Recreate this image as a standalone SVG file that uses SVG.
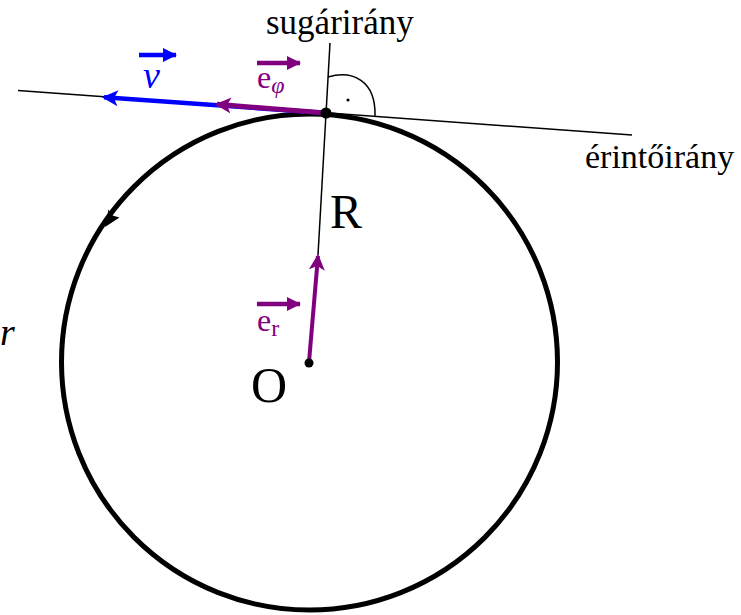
<svg xmlns="http://www.w3.org/2000/svg" width="741" height="615" viewBox="0 0 741 615">
<style>
  .lbl{font-family:"Liberation Serif","Times New Roman",serif;fill:#000}
  .thin{stroke:#000;stroke-width:1.5;fill:none}
</style>
<defs>
  <marker id="hb" markerUnits="userSpaceOnUse" viewBox="0 0 16 16" refX="14" refY="8" markerWidth="16" markerHeight="16" orient="auto">
    <path d="M0,0 L16,8 L0,16 L4,8 Z" fill="#0000ff"/>
  </marker>
  <marker id="hp" markerUnits="userSpaceOnUse" viewBox="0 0 16 16" refX="14" refY="8" markerWidth="16" markerHeight="16" orient="auto">
    <path d="M0,0 L16,8 L0,16 L4,8 Z" fill="#800080"/>
  </marker>
  <marker id="hps" markerUnits="userSpaceOnUse" viewBox="0 0 14 14" refX="13" refY="7" markerWidth="14" markerHeight="14" orient="auto">
    <path d="M0,0 L14,7 L0,14 Z" fill="#800080"/>
  </marker>
  <marker id="hbs" markerUnits="userSpaceOnUse" viewBox="0 0 14 14" refX="13" refY="7" markerWidth="14" markerHeight="14" orient="auto">
    <path d="M0,0 L14,7 L0,14 Z" fill="#0000ff"/>
  </marker>
</defs>
<rect width="741" height="615" fill="#fff"/>

<g id="circle">
  <circle cx="309.5" cy="362" r="248" fill="none" stroke="#000" stroke-width="5"/>
  <path d="M105,227 L108.5,209.5 L112.5,215.5 L119.5,217.5 Z" fill="#000"/>
</g>

<g id="connectors">
  <line class="thin" x1="18" y1="90.5" x2="632" y2="135"/>
  <line class="thin" x1="330" y1="43" x2="318" y2="255"/>
  <path class="thin" d="M328,77 C352,70 376,80 375,116"/>
  <circle cx="348" cy="100" r="1.6" fill="#000"/>
  <line x1="326" y1="113" x2="104" y2="97.3" stroke="#0000ff" stroke-width="4.5" marker-end="url(#hb)"/>
  <line x1="326" y1="113" x2="217" y2="104.3" stroke="#800080" stroke-width="5" marker-end="url(#hp)"/>
  <line x1="309" y1="362" x2="318" y2="256" stroke="#800080" stroke-width="4" marker-end="url(#hp)"/>
  <circle cx="326" cy="113" r="5.5" fill="#000"/>
  <circle cx="309" cy="363" r="4.5" fill="#000"/>
</g>

<g id="labels">
  <text class="lbl" x="266" y="34" font-size="35">sugárirány</text>
  <text class="lbl" x="585" y="168" font-size="34">érintőirány</text>
  <text class="lbl" x="330" y="228" font-size="48">R</text>
  <text class="lbl" x="251" y="402" font-size="50">O</text>
  <text class="lbl" x="0" y="345" font-size="38" font-style="italic">r</text>
</g>

<g id="label-v">
  <line x1="139" y1="55" x2="176" y2="55" stroke="#0000ff" stroke-width="4.5" marker-end="url(#hbs)"/>
  <text x="143" y="88" font-family="Liberation Serif, serif" font-size="38" font-style="italic" fill="#0000ff">v</text>
</g>
<g id="label-ephi">
  <line x1="257" y1="63" x2="300" y2="63" stroke="#800080" stroke-width="4.5" marker-end="url(#hps)"/>
  <text x="257" y="88" font-family="Liberation Serif, serif" font-size="32" fill="#800080">e<tspan font-size="24" font-style="italic" dy="5">φ</tspan></text>
</g>
<g id="label-er">
  <line x1="257" y1="304" x2="300" y2="304" stroke="#800080" stroke-width="4.5" marker-end="url(#hps)"/>
  <text x="257" y="331" font-family="Liberation Serif, serif" font-size="32" fill="#800080">e<tspan font-size="24" dy="5">r</tspan></text>
</g>
</svg>
